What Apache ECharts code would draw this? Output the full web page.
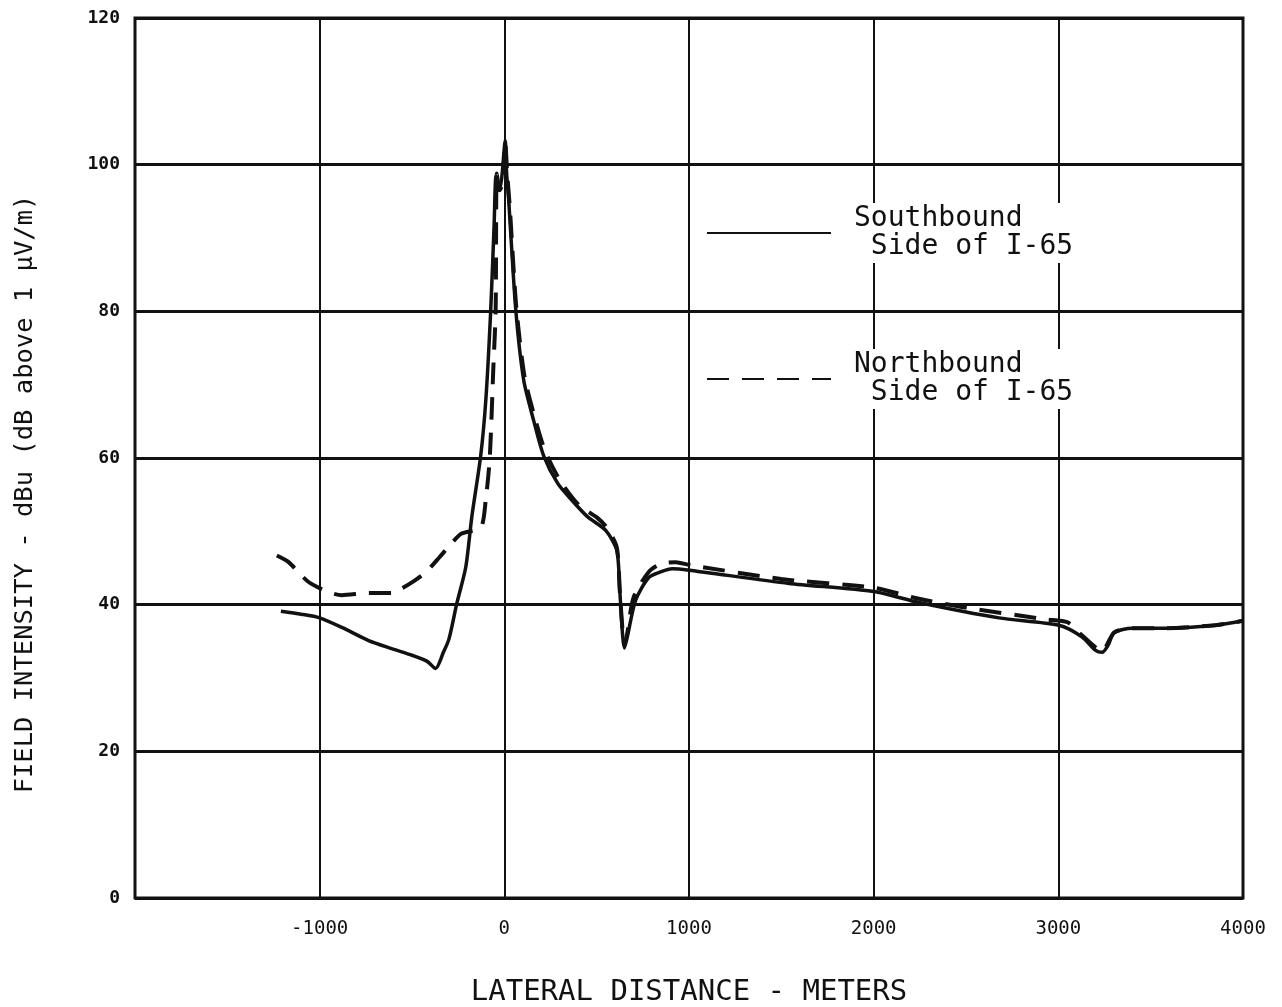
<!DOCTYPE html>
<html>
<head>
<meta charset="utf-8">
<script src="https://cdn.jsdelivr.net/npm/echarts@6/dist/echarts.min.js"></script>
<style>
  html, body { margin: 0; padding: 0; background: #fff; }
  #chart { width: 1282px; height: 1007px; }
</style>
</head>
<body>
<div id="chart"></div>
<script>
// lateral distance (m), field intensity (dBu)
var southbound = [
    [-1210, 39.1], [-1100, 38.7], [-1000, 38.2], [-880, 36.9], [-735, 35.1],
    [-610, 34.0], [-500, 33.1], [-420, 32.3], [-372, 31.3], [-330, 33.5],
    [-300, 35.3], [-257, 40.2], [-209, 45.1], [-176, 52.0], [-128, 60.3],
    [-100, 68], [-74, 80], [-55, 92], [-45, 98.5], [-30, 96.5], [-15, 98],
    [5, 103.3], [12, 99], [24, 95], [62, 80.2], [105, 70.6], [160, 65],
    [213, 60.3], [290, 56.5], [367, 54.2], [450, 52.0], [550, 50.1],
    [609, 47.4], [625, 42], [640, 36], [650, 34.1], [665, 35.5], [711, 40.6],
    [782, 43.7], [850, 44.5], [908, 44.9], [1000, 44.7], [1541, 42.9],
    [2000, 41.8], [2245, 40.3], [2679, 38.2], [3003, 37.2], [3129, 35.6],
    [3200, 33.8], [3237, 33.5], [3270, 34.5], [3302, 36.2], [3400, 36.8],
    [3582, 36.8], [3852, 37.2], [4000, 37.8]
];
var northbound = [
    [-1232, 46.7], [-1168, 45.8], [-1100, 44.0], [-1049, 42.9], [-951, 41.7],
    [-880, 41.3], [-735, 41.6], [-610, 41.6], [-556, 42.2], [-490, 43.2],
    [-426, 44.4], [-350, 46.5], [-285, 48.4], [-231, 49.7], [-128, 50.5],
    [-101, 54.2], [-79, 60], [-60, 72], [-47, 80.2], [-41, 98.8], [-25, 96.5],
    [-10, 97.5], [5, 103], [15, 99], [30, 94], [65, 80.5], [110, 71],
    [165, 65.5], [220, 61], [300, 57], [403, 53.6], [501, 51.9], [555, 50.5],
    [609, 47.8], [625, 42], [640, 36.5], [650, 34.5], [665, 36], [700, 41],
    [783, 44.5], [852, 45.6], [928, 45.8], [1004, 45.4], [1500, 43.5],
    [2000, 42.3], [2245, 40.8], [2500, 39.6], [2933, 38.0], [3050, 37.6],
    [3129, 35.8], [3237, 33.7], [3302, 36.2], [3400, 36.8], [3582, 36.8],
    [3852, 37.2], [4000, 37.8]
];
var southName = 'Southbound\n Side of I-65';
var northName = 'Northbound\n Side of I-65';

var font = '"DejaVu Sans Mono", monospace';
var ink = '#111';

function legendFor(name, top){
    return {
        data: [name],
        left: 702,
        top: top,
        orient: 'vertical',
        itemWidth: 124,
        itemHeight: 14,
        backgroundColor: '#fff',
        padding: [2, 4, 2, 4],
        selectedMode: false,
        itemStyle: { opacity: 0 },
        textStyle: {
            fontFamily: font,
            fontSize: 28,
            color: ink,
            lineHeight: 28,
            padding: [0, 0, 0, 18]
        }
    };
}

var myChart = echarts.init(document.getElementById('chart'));
var option = {
    backgroundColor: '#fff',
    animation: false,
    grid: {
        left: 135,
        right: 39,
        top: 18,
        bottom: 109,
        outerBoundsMode: 'none',
        containLabel: false,
        show: true,
        borderColor: ink,
        borderWidth: 3
    },
    legend: [legendFor(southName, 203), legendFor(northName, 349)],
    xAxis: {
        type: 'value',
        min: -2000,
        max: 4000,
        interval: 1000,
        name: 'LATERAL DISTANCE - METERS',
        nameLocation: 'middle',
        nameGap: 80,
        nameTextStyle: { fontFamily: font, fontSize: 29, color: ink },
        axisLine: { show: false },
        axisTick: { show: false },
        axisLabel: {
            margin: 22,
            fontFamily: font,
            fontSize: 19,
            color: ink,
            formatter: function (v) { return v == -2000 ? '' : String(v); }
        },
        splitLine: { show: true, lineStyle: { color: ink, width: 2 } }
    },
    yAxis: {
        type: 'value',
        min: 0,
        max: 120,
        interval: 20,
        name: 'FIELD INTENSITY - dBu (dB above 1 \u00b5V/m)',
        nameLocation: 'middle',
        nameGap: 97,
        nameTextStyle: {
            fontFamily: font,
            fontSize: 25.5,
            color: ink,
            padding: [0, 72, 0, 0]
        },
        axisLine: { show: false },
        axisTick: { show: false },
        axisLabel: {
            margin: 15,
            fontFamily: font,
            fontSize: 18,
            fontWeight: 'bold',
            color: ink
        },
        splitLine: { show: true, lineStyle: { color: ink, width: 3 } }
    },
    series: [{
        type: 'line',
        name: southName,
        data: southbound,
        smooth: 0.25,
        symbol: 'none',
        showSymbol: false,
        itemStyle: { color: ink },
        lineStyle: { color: ink, width: 3.5 }
    }, {
        type: 'line',
        name: northName,
        data: northbound,
        smooth: 0.25,
        symbol: 'none',
        showSymbol: false,
        itemStyle: { color: ink },
        lineStyle: { color: ink, width: 4, type: [22, 13] }
    }]
};
myChart.setOption(option);
</script>
</body>
</html>
